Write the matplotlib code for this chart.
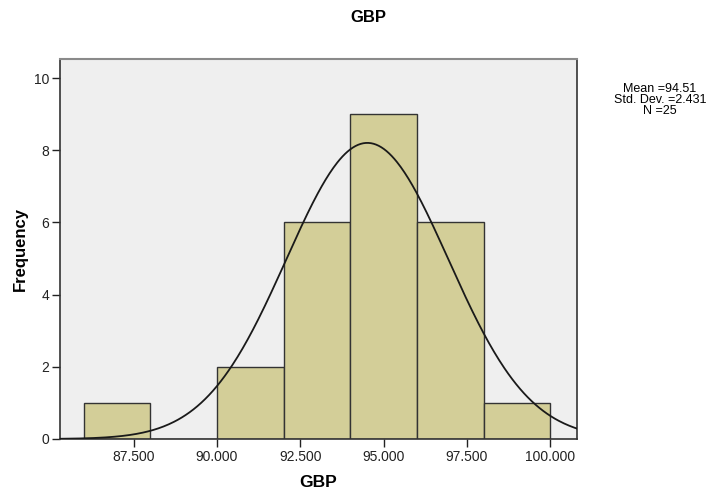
import numpy as np
import matplotlib
matplotlib.use("Agg")
import matplotlib.pyplot as plt

plt.rcParams['font.family'] = ['Liberation Sans', 'DejaVu Sans']

# Histogram bins (edges) and counts
bin_edges = [86.0, 88.0, 90.0, 92.0, 94.0, 96.0, 98.0, 100.0]
counts = [1, 0, 2, 6, 9, 6, 1]

# Summary statistics
mean_val = 94.51
std_val = 2.431
n_val = 25

x_ticks = [87.5, 90.0, 92.5, 95.0, 97.5, 100.0]
x_tick_labels = ["87.500", "90.000", "92.500", "95.000", "97.500", "100.000"]
y_ticks = [0, 2, 4, 6, 8, 10]

fig = plt.figure(figsize=(7.18, 4.93), dpi=100)
ax = fig.add_axes([60 / 718, 54 / 493, 517 / 718, 380 / 493])
ax.set_facecolor('#EFEFEF')

edges = np.array(bin_edges)
widths = np.diff(edges)
ax.bar(edges[:-1], counts, width=widths, align='edge',
       color='#D3CE98', edgecolor='#333333', linewidth=1.0, zorder=2)

# Fitted normal curve scaled to counts
x_lo, x_hi = 85.29, 100.8
xs = np.linspace(x_lo, x_hi, 400)
bw = widths[0]
ys = n_val * bw / (std_val * np.sqrt(2 * np.pi)) * np.exp(-0.5 * ((xs - mean_val) / std_val) ** 2)
ax.plot(xs, ys, color='#1a1a1a', linewidth=1.3, zorder=3)

ax.set_xlim(x_lo, x_hi)
ax.set_ylim(0, 10.53)
ax.set_xticks(x_ticks)
ax.set_xticklabels(x_tick_labels)
ax.set_yticks(y_ticks)
ax.tick_params(axis='x', direction='out', length=6, width=1.0,
               labelsize=10, colors='#222222', pad=2)
ax.tick_params(axis='y', direction='out', length=6, width=1.0,
               labelsize=10, colors='#222222', pad=2)

for side in ['left', 'bottom', 'right']:
    ax.spines[side].set_color('#333333')
    ax.spines[side].set_linewidth(1.2)
ax.spines['top'].set_color('#8a8a8a')
ax.spines['top'].set_linewidth(1.5)

ax.set_xlabel('GBP', fontsize=12.5, fontweight='bold', labelpad=8)
ax.set_ylabel('Frequency', fontsize=12, fontweight='bold', labelpad=4)

fig.text(368 / 718, 1 - 18 / 493, 'GBP', ha='center', va='center',
         fontsize=12, fontweight='bold')

stats_text = f"Mean ={mean_val:.2f}\nStd. Dev. ={std_val:.3f}\nN ={n_val}"
fig.text(660 / 718, 1 - 100 / 493, stats_text, ha='center', va='center',
         fontsize=9, linespacing=0.92)

fig.savefig('out.png', dpi=100)
